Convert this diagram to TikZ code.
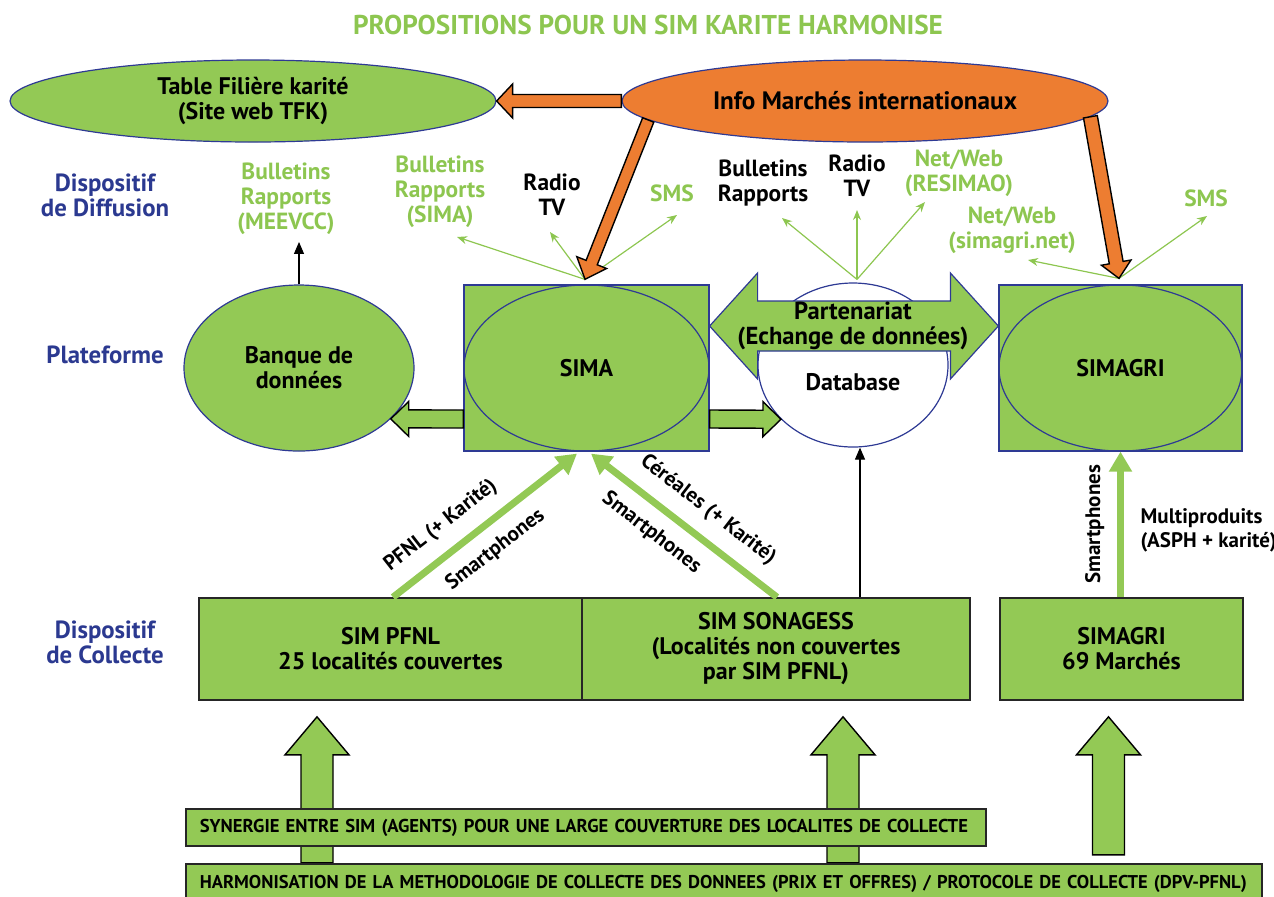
\documentclass[tikz,border=0pt]{standalone}
\usepackage{fontspec}
\setmainfont{PT Sans}
\usetikzlibrary{calc, arrows.meta, positioning, shapes.geometric}
\definecolor{simgreen}{HTML}{93C955}
\definecolor{txtgreen}{HTML}{8DC650}
\definecolor{ringblue}{HTML}{2E3A94}
\definecolor{sideblue}{HTML}{2B3990}
\definecolor{infoorange}{HTML}{ED7D31}

% block arrow: style, from, to, shaft half, head half, head length
\newcommand{\blockarrow}[6]{%
  \filldraw[#1] let \p1=(#2), \p2=(#3), \n1={atan2(\y2-\y1,\x2-\x1)}, \n2={veclen(\x2-\x1,\y2-\y1)} in
    [shift={(\p1)}, rotate=\n1] (0pt,#4) -- ({\n2-#6},#4) -- ({\n2-#6},#5) -- (\n2,0pt)
    -- ({\n2-#6},-#5) -- ({\n2-#6},-#4) -- (0pt,-#4) -- cycle;}
% same, with a head at both ends
\newcommand{\twowayarrow}[6]{%
  \filldraw[#1] let \p1=(#2), \p2=(#3), \n1={atan2(\y2-\y1,\x2-\x1)}, \n2={veclen(\x2-\x1,\y2-\y1)} in
    [shift={(\p1)}, rotate=\n1] (0pt,0pt) -- (#6,#5) -- (#6,#4) -- ({\n2-#6},#4) -- ({\n2-#6},#5) -- (\n2,0pt)
    -- ({\n2-#6},-#5) -- ({\n2-#6},-#4) -- (#6,-#4) -- (#6,-#5) -- cycle;}

\begin{document}
\begin{tikzpicture}[x=0.5pt, y=-0.5pt,
    every node/.style={font=\bfseries\fontsize{12}{12.5}\selectfont, align=center},
    oval/.style={ellipse, draw=ringblue, fill=#1, line width=0.6pt, minimum width=243pt, minimum height=41pt, inner sep=0pt},
    ring/.style={ellipse, draw=ringblue, line width=0.6pt, minimum height=83pt, inner sep=0pt},
    sysbox/.style={rectangle, draw=ringblue, fill=simgreen, line width=0.6pt, minimum width=#1, minimum height=83pt, inner sep=0pt},
    collbox/.style={rectangle, draw=black!85, fill=simgreen, line width=0.8pt, minimum width=#1, minimum height=51pt, inner sep=0pt},
    band/.style={rectangle, draw=black!85, fill=simgreen, line width=0.8pt, anchor=west, align=left, inner xsep=7pt, minimum height=18.5pt},
    side/.style={text=sideblue, font=\bfseries\fontsize{12.4}{12.5}\selectfont},
    media/.style={text=#1, font=\bfseries\fontsize{11.7}{12.5}\selectfont},
    smalltxt/.style={font=\bfseries\fontsize{10.5}{12}\selectfont},
    fan/.style={draw=txtgreen, line width=0.6pt, -{Stealth[length=5pt,width=4pt]}},
    blk/.style={draw=black, line width=0.6pt, -{Triangle[length=6pt,width=5pt]}},
    feed/.style={draw=simgreen, line width=3.5pt, -{Triangle[length=10pt,width=11pt]}},
    greenblk/.style={fill=simgreen, draw=black, line width=0.7pt},
    orangeblk/.style={fill=infoorange, draw=black, line width=0.7pt},
    partblk/.style={fill=simgreen, draw=ringblue, line width=0.6pt}
]
\useasboundingbox (0,0) rectangle (1274,896);

\node[font=\bfseries\fontsize{13.6}{15}\selectfont, text=txtgreen] (title) at (648,25) {PROPOSITIONS POUR UN SIM KARITE HARMONISE};

% diffusion
\node[oval=simgreen] (tfk) at (253,101) {Table Filière karité\\(Site web TFK)};
\node[oval=infoorange, font=\bfseries\fontsize{12.6}{13}\selectfont] (info) at (865,101) {Info Marchés internationaux};

\node[side] (diffusion) at (105,195) {Dispositif\\de Diffusion};
\node[side] (platform) at (105,355) {Plateforme};
\node[side] (collecte) at (105,642) {Dispositif\\de Collecte};

\node[media=txtgreen] (bmeevcc) at (286,199) {Bulletins\\Rapports\\(MEEVCC)};
\node[media=txtgreen] (bsima) at (440,192) {Bulletins\\Rapports\\(SIMA)};
\node[media=black] (rsima) at (552,195) {Radio\\TV};
\node[media=txtgreen] (ssima) at (672,193) {SMS};
\node[media=black] (bdb) at (763,183) {Bulletins\\Rapports};
\node[media=black] (rdb) at (857,176) {Radio\\TV};
\node[media=txtgreen] (ndb) at (959,173) {Net/Web\\(RESIMAO)};
\node[media=txtgreen] (nsg) at (1012,230) {Net/Web\\(simagri.net)};
\node[media=txtgreen] (ssg) at (1206,198) {SMS};

% plateforme
\node[oval=simgreen, minimum width=115pt, minimum height=83pt] (banque) at (299,368) {Banque de\\données};
\node[sysbox=122.5pt] (sima) at (586.5,368) {SIMA};
\node[ring, minimum width=122.5pt] at (sima) {};
\node[oval=white, minimum width=95pt, minimum height=82pt] (db) at (853,365) {};
\node[sysbox=121.5pt] (simagri) at (1120.5,368) {SIMAGRI};
\node[ring, minimum width=121.5pt] at (simagri) {};

\coordinate (pmid) at (853,326);
\twowayarrow{partblk}{sima.east |- pmid}{simagri.west |- pmid}{12.5pt}{26.5pt}{24pt}
\node[font=\bfseries\fontsize{12.3}{12.5}\selectfont] (partner) at (pmid) {Partenariat\\(Echange de données)};
\node (dbtxt) at (853,382) {Database};

\blockarrow{greenblk}{$(sima.west)+(0,51)$}{banque.-29.3}{4.5pt}{8.75pt}{9pt}
\blockarrow{greenblk}{$(sima.east)+(0,51)$}{db.217}{4.5pt}{8.75pt}{9pt}

% diffusion fans
\coordinate (simatop) at ($(sima.north)+(-1.5,-5)$);
\coordinate (dbtop) at ($(db.north)+(4,-3)$);
\coordinate (simagritop) at ($(simagri.north)+(-1.5,-6)$);
\foreach \dst/\dx/\dy in {bsima/17/45, rsima/-2/37, ssima/5/22}
  \draw[fan] (simatop) -- ($(\dst)+(\dx,\dy)$);
\foreach \dst/\dx/\dy in {bdb/19/35, rdb/0/34, ndb/-34/29}
  \draw[fan] (dbtop) -- ($(\dst)+(\dx,\dy)$);
\foreach \dst/\dx/\dy in {nsg/16/30, ssg/1/18}
  \draw[fan] (simagritop) -- ($(\dst)+(\dx,\dy)$);
\draw[blk] (banque.north) -- (banque.north |- bmeevcc.south);

\blockarrow{orangeblk}{info.west}{tfk.east}{3.25pt}{8.5pt}{8pt}
\blockarrow{orangeblk}{info.185.5}{simatop}{3pt}{8pt}{9pt}
\blockarrow{orangeblk}{info.-4.1}{simagritop}{3.5pt}{7.5pt}{8pt}

% collecte
\node[collbox=191.5pt] (pfnl) at (390.5,649) {SIM PFNL\\25 localités couvertes};
\node[collbox=194pt] (sonagess) at (776,649) {SIM SONAGESS\\(Localités non couvertes\\par SIM PFNL)};
\node[collbox=121.5pt] (simagric) at (1121.5,649) {SIMAGRI\\69 Marchés};

\draw[feed] ($(pfnl.north)+(2.5,0)$) -- ($(sima.south)+(-9.5,2)$)
  node[smalltxt, pos=.35, sloped, above=3.5pt] {PFNL (+ Karité)}
  node[smalltxt, pos=.47, sloped, below=3pt] {Smartphones};
\draw[feed] ($(sonagess.north)+(1,0)$) -- ($(sima.south)+(4.5,2)$)
  node[smalltxt, pos=.46, sloped, above=3.5pt] {Céréales (+ Karité)}
  node[smalltxt, pos=.59, sloped, below=3pt] {Smartphones};
\draw[feed] (simagric.north -| simagri.south) -- (simagri.south)
  node[smalltxt, pos=.5, sloped, above=3pt] {Smartphones}
  node[smalltxt, pos=.46, right=5pt, align=left] {Multiproduits\\(ASPH + karité)};
\draw[blk] ($(sonagess.north)+(84,0)$) -- ($(db.south)+(7,0)$);

\blockarrow{greenblk}{$(pfnl.south)+(-73.5,162)$}{$(pfnl.south)+(-73.5,16)$}{8pt}{16pt}{19pt}
\blockarrow{greenblk}{$(sonagess.south)+(67,162)$}{$(sonagess.south)+(67,16)$}{8pt}{16pt}{19pt}
\blockarrow{greenblk}{$(simagric.south)+(-13,154)$}{$(simagric.south)+(-13,16)$}{8pt}{16pt}{19pt}

\node[band, text width=386pt, font=\bfseries\fontsize{9.3}{10}\selectfont] (synergy) at (185,827.5) {SYNERGIE ENTRE SIM (AGENTS) POUR UNE LARGE COUVERTURE DES LOCALITES DE COLLECTE};
\node[band, text width=524pt, minimum height=20pt, font=\bfseries\fontsize{9.25}{10}\selectfont] (harmon) at (185,884) {HARMONISATION DE LA METHODOLOGIE DE COLLECTE DES DONNEES (PRIX ET OFFRES) / PROTOCOLE DE COLLECTE (DPV-PFNL)};
\end{tikzpicture}
\end{document}
